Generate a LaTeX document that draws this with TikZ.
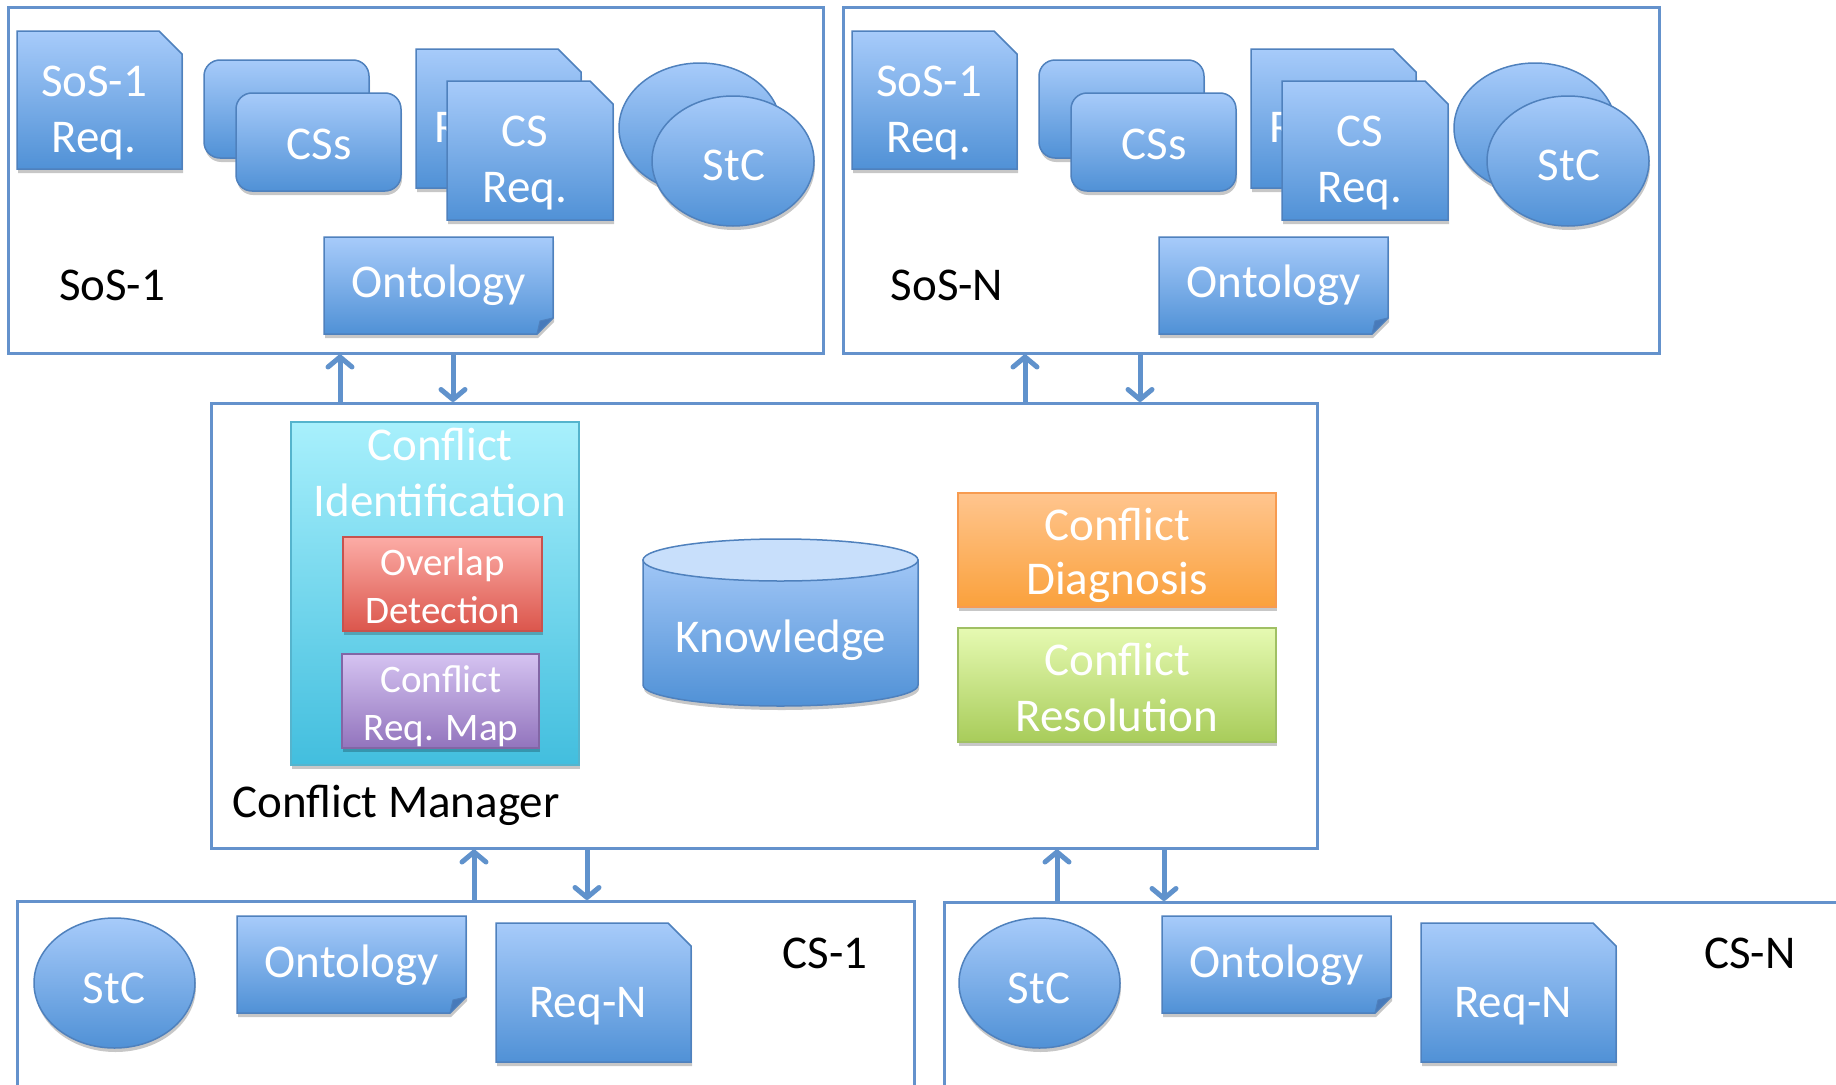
\documentclass[tikz,border=0pt]{standalone}
\usepackage{fontspec}
\setmainfont{Carlito}
\usetikzlibrary{shapes.geometric,shadows,arrows.meta}
\definecolor{btop}{RGB}{167,203,250}
\definecolor{bbot}{RGB}{80,145,214}
\definecolor{bline}{RGB}{79,129,189}
\definecolor{bfold}{RGB}{72,122,186}
\definecolor{boxline}{RGB}{100,146,204}
\definecolor{arrc}{RGB}{96,146,204}
\definecolor{cytop}{RGB}{168,240,252}
\definecolor{cybot}{RGB}{66,190,222}
\definecolor{cyline}{RGB}{85,180,205}
\definecolor{rdtop}{RGB}{252,172,166}
\definecolor{rdbot}{RGB}{219,86,76}
\definecolor{rdline}{RGB}{200,82,78}
\definecolor{putop}{RGB}{213,195,241}
\definecolor{pubot}{RGB}{146,116,189}
\definecolor{puline}{RGB}{130,102,165}
\definecolor{ortop}{RGB}{255,197,142}
\definecolor{orbot}{RGB}{250,161,60}
\definecolor{orline}{RGB}{247,155,80}
\definecolor{grtop}{RGB}{230,250,178}
\definecolor{grbot}{RGB}{168,204,90}
\definecolor{grline}{RGB}{160,192,100}
\definecolor{cyltop}{RGB}{200,223,251}
\definecolor{cylbody}{RGB}{160,198,246}

\tikzset{
  softshadow/.style={drop shadow={shadow xshift=1pt, shadow yshift=-4pt, opacity=0.22, fill=black}},
  bshape/.style={draw=bline, line width=1.5pt, top color=btop, bottom color=bbot, softshadow},
  anchorbox/.style={inner sep=0pt, outer sep=0pt, rectangle},
  rrect/.style={bshape, rectangle, rounded corners=16pt, inner sep=0pt},
  oval/.style={bshape, ellipse, inner sep=0pt},
  fold/.style={fill=bfold, draw=bline, line width=1pt, line join=round},
  wt/.style={text=white, font=\fontsize{47}{56}\selectfont, align=center, inner sep=0pt, anchor=base},
  wts/.style={wt, font=\fontsize{39}{48}\selectfont},
  lbl/.style={text=black, font=\fontsize{47}{56}\selectfont, inner sep=0pt, anchor=base},
  grpbox/.style={draw=boxline, line width=2.5pt, inner sep=0pt, anchor=north west},
  colbox/.style={rectangle, line width=1.5pt, inner sep=0pt, softshadow},
  arr/.style={draw=arrc, line width=5pt, -{Straight Barb[length=10pt,width=24pt,round]}}
}

% snipped (top-right) rectangle: name, centre, width, height, cut
\newcommand\SnipBox[5]{%
  \node[anchorbox, minimum width=#3, minimum height=#4] (#1) at (#2) {};
  \path[bshape] (#1.north west) -- ([xshift=-#5]#1.north east) -- ([yshift=-#5]#1.north east)
     -- (#1.south east) -- (#1.south west) -- cycle;}
% folded-corner (bottom-right) rectangle: name, centre, width, height
\newcommand\FoldBox[4]{%
  \node[anchorbox, minimum width=#3, minimum height=#4] (#1) at (#2) {};
  \path[bshape] (#1.north west) -- (#1.north east) -- ([yshift=16pt]#1.south east)
     -- ([xshift=-16pt]#1.south east) -- (#1.south west) -- cycle;
  \filldraw[fold] ([yshift=16pt]#1.south east) -- ([xshift=-16pt]#1.south east)
     -- ([xshift=-13pt,yshift=13pt]#1.south east) -- cycle;}

\newcommand\SoSGroup[3]{%
  \begin{scope}[xshift=#2]
    \SnipBox{#1req}{99.5,100}{165pt}{138pt}{23pt}
    \node[wt] (#1reqt) at (94,152) {SoS-1\\Req.};
    \node[rrect, minimum width=165pt, minimum height=98pt] (#1cssb) at (286.5,109) {};
    \node[rrect, minimum width=165pt, minimum height=98pt] (#1cssf) at (318.5,142) {};
    \node[wt] (#1csst) at (319,159) {CSs};
    \SnipBox{#1csrb}{498.5,118.5}{165pt}{139pt}{23pt}
    \node[wt, anchor=base west] (#1csrbt) at (434,142) {R};
    \SnipBox{#1csrf}{530,150.5}{166pt}{139pt}{23pt}
    \node[wt] (#1csrft) at (525,202) {CS\\Req.};
    \node[oval, minimum width=162pt, minimum height=130pt] (#1stcb) at (700,128) {};
    \node[oval, minimum width=162pt, minimum height=130pt] (#1stcf) at (733,161) {};
    \node[wt] (#1stct) at (734,180) {StC};
    \FoldBox{#1onto}{438.5,285.5}{229pt}{97pt}
    \node[wt] (#1ontot) at (439,297) {Ontology};
    \node[lbl] (#1lbl) at (112,300) {#3};
  \end{scope}}

\newcommand\CSGroup[3]{%
  \begin{scope}[xshift=#2]
    \node[oval, minimum width=161pt, minimum height=130pt] (#1stc) at (114.5,983) {};
    \node[wt] (#1stct) at (114,1003) {StC};
    \FoldBox{#1onto}{351.5,964.5}{229pt}{97pt}
    \node[wt] (#1ontot) at (352,977) {Ontology};
    \SnipBox{#1req}{593.5,992.5}{195pt}{139pt}{23pt}
    \node[wt] (#1reqt) at (588,1017) {Req-N};
    \node[lbl] (#1lbl) at (825,968) {#3};
  \end{scope}}

\begin{document}
\begin{tikzpicture}[x=1pt, y=-1pt]
\useasboundingbox (0,0) rectangle (1836,1084);
\fill[white] (0,0) rectangle (1836,1084);

% group frames
\node[grpbox, minimum width=815pt, minimum height=346pt] (sos1) at (7,6) {};
\node[grpbox, minimum width=816pt, minimum height=346pt] (sosn) at (842,6) {};
\node[grpbox, minimum width=1106pt, minimum height=445pt] (cm) at (210,402) {};
\node[grpbox, minimum width=897pt, minimum height=230pt] (cs1) at (16,900) {};
\node[grpbox, minimum width=930pt, minimum height=230pt] (csn) at (943,901) {};

\SoSGroup{a}{0pt}{SoS-1}
\SoSGroup{b}{835pt}{SoS-N}
\CSGroup{c}{0pt}{CS-1}
\CSGroup{d}{925pt}{CS-N}

% conflict manager contents
\node[colbox, draw=cyline, top color=cytop, bottom color=cybot, minimum width=288pt, minimum height=343pt] (cid) at (435,593.5) {};
\node[wt] (cidt) at (440,516) {Conflict\\Identification};
\node[colbox, draw=rdline, top color=rdtop, bottom color=rdbot, minimum width=199pt, minimum height=94pt] (ovl) at (442.5,584) {};
\node[wts] (ovlt) at (442.5,623) {Overlap\\Detection};
\node[colbox, draw=puline, top color=putop, bottom color=pubot, minimum width=197pt, minimum height=94pt] (crm) at (440.5,701) {};
\node[wts] (crmt) at (441,740) {Conflict\\Req. Map};

\shade[top color=cylbody, bottom color=bbot, draw=bline, line width=1.5pt, softshadow]
  (643,560) -- (643,685) arc[start angle=180, end angle=0, x radius=137.5, y radius=21] -- (918,560) -- cycle;
\filldraw[fill=cyltop, draw=bline, line width=1.5pt] (780.5,560) ellipse[x radius=137.5, y radius=21];
\node[wt] (know) at (781,652) {Knowledge};

\node[colbox, draw=orline, top color=ortop, bottom color=orbot, minimum width=318pt, minimum height=114pt] (cdg) at (1117,550) {};
\node[wt, font=\fontsize{47}{54}\selectfont] (cdgt) at (1117,594) {Conflict\\Diagnosis};
\node[colbox, draw=grline, top color=grtop, bottom color=grbot, minimum width=318pt, minimum height=114pt] (crs) at (1117,685) {};
\node[wt] (crst) at (1117,731) {Conflict\\Resolution};
\node[lbl] (cmlbl) at (396,817) {Conflict Manager};

% connectors
\coordinate (x1) at (340,0);
\coordinate (x2) at (453,0);
\coordinate (x3) at (1025,0);
\coordinate (x4) at (1140,0);
\coordinate (x5) at (474,0);
\coordinate (x6) at (587,0);
\coordinate (x7) at (1057,0);
\coordinate (x8) at (1164,0);
\draw[arr] (cm.north -| x1) -- (sos1.south -| x1);
\draw[arr] (sos1.south -| x2) -- (cm.north -| x2);
\draw[arr] (cm.north -| x3) -- (sosn.south -| x3);
\draw[arr] (sosn.south -| x4) -- (cm.north -| x4);
\draw[arr] (cs1.north -| x5) -- (cm.south -| x5);
\draw[arr] (cm.south -| x6) -- (cs1.north -| x6);
\draw[arr] (csn.north -| x7) -- (cm.south -| x7);
\draw[arr] (cm.south -| x8) -- (csn.north -| x8);
\end{tikzpicture}
\end{document}
